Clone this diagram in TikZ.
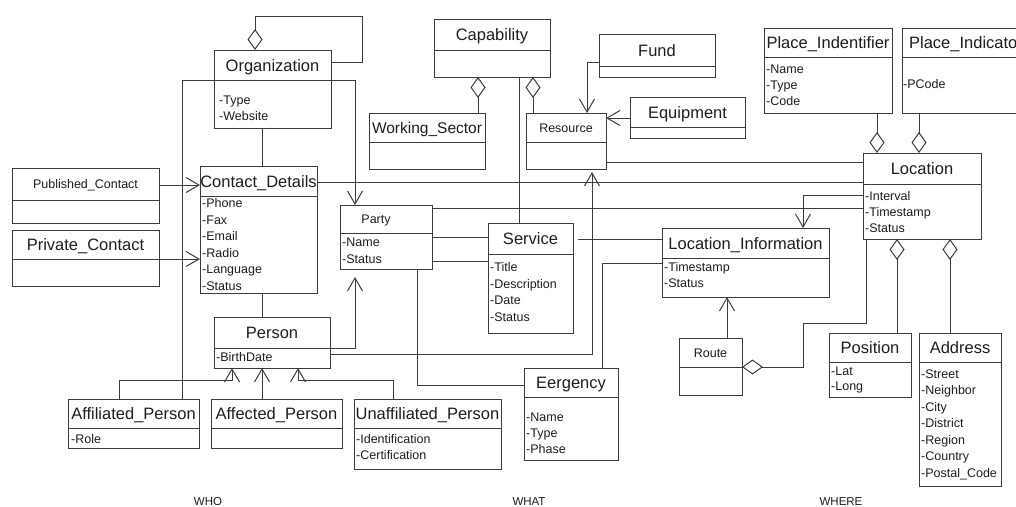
\documentclass[tikz,border=0pt]{standalone}
\usepackage{fontspec}
\setmainfont{Liberation Sans}
\usetikzlibrary{arrows.meta}
\definecolor{linegray}{HTML}{3C3C3C}
\definecolor{textgray}{HTML}{1E1E1E}
\tikzset{
  classbox/.style={draw=linegray, line width=1pt, rectangle, inner sep=0pt, outer sep=0pt},
  classline/.style={draw=linegray, line width=1pt},
  bigtitle/.style={font=\fontsize{16.5}{18}\selectfont, text=textgray, inner sep=0pt, anchor=base, yshift=-6pt},
  smalltitle/.style={font=\fontsize{12.5}{14}\selectfont, text=textgray, inner sep=0pt, anchor=base, yshift=-4.5pt},
  attr/.style={font=\fontsize{12.5}{14}\selectfont, text=textgray, inner sep=0pt, anchor=base west},
  link/.style={draw=linegray, line width=1pt},
  nav/.style={link, -{Straight Barb[length=13pt,width=15pt]}},
  agg/.style={link, {Diamond[open,length=21pt,width=15pt]}-},
  aggend/.style={link, -{Diamond[open,length=21pt,width=15pt]}},
  zone/.style={font=\fontsize{11.5}{13}\selectfont, text=textgray, inner sep=0pt, anchor=base},
}
% class box: name, left, top, right, bottom, separator, title style, title
\newcommand\umlclass[8]{%
  \node[classbox, anchor=north west, minimum width={(#4)-(#2)}, minimum height={(#5)-(#3)}] (#1) at (#2,#3) {};
  \draw[classline] (#2,#6) -- (#4,#6);
  \node[#7] (#1-title) at ({((#2)+(#4))/2},{((#3)+(#6))/2}) {#8};
}
% attribute lines: name, left, first baseline, line spacing, lines
\newcommand\umlattrs[5]{%
  \foreach \attrtext [count=\attrno] in {#5}
    \node[attr] (#1-a\attrno) at (#2,{(#3)+(\attrno-1)*(#4)}) {\attrtext};
}
\begin{document}
\begin{tikzpicture}[x=1pt,y=-1pt]
\clip (0,0) rectangle (1016,506);
\fill[white] (0,0) rectangle (1016,506);

% ---- WHO ----
\umlclass{org}{214}{50}{331}{128}{80}{bigtitle}{Organization}
\umlattrs{org}{219}{104}{16.5}{-Type,-Website}
\umlclass{contact}{200}{166}{317}{293}{196}{bigtitle}{Contact\_Details}
\umlattrs{contact}{202}{207.5}{16.5}{-Phone,-Fax,-Email,-Radio,-Language,-Status}
\umlclass{pub}{12}{168}{159}{223}{200}{smalltitle}{Published\_Contact}
\umlclass{priv}{12}{230}{159}{286}{259}{bigtitle}{Private\_Contact}
\umlclass{person}{214}{317}{330}{368}{348}{bigtitle}{Person}
\umlattrs{person}{216}{361}{16.5}{-BirthDate}
\umlclass{affil}{68}{399}{199}{448}{428}{bigtitle}{Affiliated\_Person}
\umlattrs{affil}{71}{443}{16.5}{-Role}
\umlclass{affect}{211}{399}{342}{448}{428}{bigtitle}{Affected\_Person}
\umlclass{unaffil}{354}{399}{501}{469}{428}{bigtitle}{Unaffiliated\_Person}
\umlattrs{unaffil}{356}{443}{16.5}{-Identification,-Certification}

% ---- WHAT ----
\umlclass{party}{340}{205}{432}{269}{233}{smalltitle, xshift=-10pt}{Party}
\umlattrs{party}{342}{246}{17}{-Name,-Status}
\umlclass{service}{488}{223}{573}{333}{254}{bigtitle}{Service}
\umlattrs{service}{490}{271.5}{16.7}{-Title,-Description,-Date,-Status}
\umlclass{eerg}{524}{368}{618}{460}{397}{bigtitle}{Eergency}
\umlattrs{eerg}{526}{421}{16}{-Name,-Type,-Phase}
\umlclass{cap}{434}{19}{550}{77}{50}{bigtitle}{Capability}
\umlclass{work}{369}{113}{485}{169}{142}{bigtitle, font=\fontsize{15.5}{17}\selectfont}{Working\_Sector}
\umlclass{res}{526}{113}{606}{169}{142}{smalltitle}{Resource}
\umlclass{fund}{599}{34}{715}{77}{66}{bigtitle}{Fund}
\umlclass{equip}{630}{97}{745}{138}{127}{bigtitle}{Equipment}

% ---- WHERE ----
\umlclass{pid}{764}{28}{892}{113}{57}{bigtitle}{Place\_Indentifier}
\umlattrs{pid}{766}{73}{16}{-Name,-Type,-Code}
\umlclass{pind}{902}{28}{1030}{113}{57}{bigtitle}{Place\_Indicator}
\umlattrs{pind}{903}{88}{16}{-PCode}
\umlclass{loc}{863}{153}{981}{239}{184}{bigtitle}{Location}
\umlattrs{loc}{865}{200}{16}{-Interval,-Timestamp,-Status}
\umlclass{locinfo}{662}{228}{829}{297}{258}{bigtitle}{Location\_Information}
\umlattrs{locinfo}{664}{271}{16}{-Timestamp,-Status}
\umlclass{route}{679}{338}{742}{395}{367}{smalltitle}{Route}
\umlclass{pos}{829}{333}{911}{397}{362}{bigtitle}{Position}
\umlattrs{pos}{831}{375}{15.5}{-Lat,-Long}
\umlclass{addr}{919}{333}{1001}{486}{362}{bigtitle}{Address}
\umlattrs{addr}{921}{378}{16.5}{-Street,-Neighbor,-City,-District,-Region,-Country,-Postal\_Code}

% ---- connectors ----
\draw[agg] (org.north-|255,0) -- (255,16) -- (362,16) -- (362,62) -- (org.north east|-0,62);
\draw[link] (org.south-|262,0) -- (contact.north-|262,0);
\draw[nav] (pub.east|-0,185) -- (contact.west|-0,185);
\draw[nav] (priv.east|-0,259) -- (contact.west|-0,259);
\draw[link] (contact.south-|262,0) -- (person.north-|262,0);
\draw[nav] (affil.north-|182,0) -- (182,80) -- (355,80) -- (party.north-|355,0);
\draw[nav] (affil.north-|119,0) -- (119,380) -- (232,380) -- (person.south-|232,0);
\draw[nav] (affect.north-|262,0) -- (person.south-|262,0);
\draw[nav] (unaffil.north-|393,0) -- (393,380) -- (298,380) -- (person.south-|298,0);
\draw[nav, shorten >=8pt] (person.east|-0,348) -- (355,348) -- (party.south-|355,0);
\draw[nav, shorten >=3pt] (person.east|-0,354) -- (592,354) -- (res.south-|592,0);
\draw[link] (contact.east|-0,182) -- (loc.west|-0,182);
\draw[link] (party.east|-0,208) -- (loc.west|-0,208);
\draw[link] (party.east|-0,237) -- (service.west|-0,237);
\draw[link] (party.east|-0,261) -- (service.west|-0,261);
\draw[link] (party.south-|417,0) -- (417,385) -- (eerg.west|-0,385);
\draw[link] (cap.south-|519,0) -- (service.north-|519,0);
\draw[agg] (cap.south-|478,0) -- (work.north-|478,0);
\draw[agg] (cap.south-|533,0) -- (res.north-|533,0);
\draw[nav] (fund.west|-0,62) -- (587,62) -- (res.north-|587,0);
\draw[nav] (equip.west|-0,118) -- (res.east|-0,118);
\draw[link] (res.east|-0,162) -- (loc.west|-0,162);
\draw[link, shorten <=5pt] (service.east|-0,239) -- (locinfo.west|-0,239);
\draw[link] (eerg.north-|602,0) -- (602,263) -- (locinfo.west|-0,263);
\draw[nav] (loc.west|-0,195) -- (803,195) -- (locinfo.north-|803,0);
\draw[aggend] (pid.south-|877,0) -- (loc.north-|877,0);
\draw[aggend] (pind.south-|919,0) -- (loc.north-|919,0);
\draw[agg] (loc.south-|897,0) -- (pos.north-|897,0);
\draw[agg] (loc.south-|950,0) -- (addr.north-|950,0);
\draw[nav] (route.north-|727,0) -- (locinfo.south-|727,0);
\draw[agg] (route.east|-0,367) -- (803,367) -- (803,323) -- (866,323) -- (loc.south-|866,0);

% ---- zone labels ----
\node[zone] (who) at (208,505) {WHO};
\node[zone] (what) at (529,505) {WHAT};
\node[zone] (where) at (841,505) {WHERE};
\end{tikzpicture}
\end{document}
